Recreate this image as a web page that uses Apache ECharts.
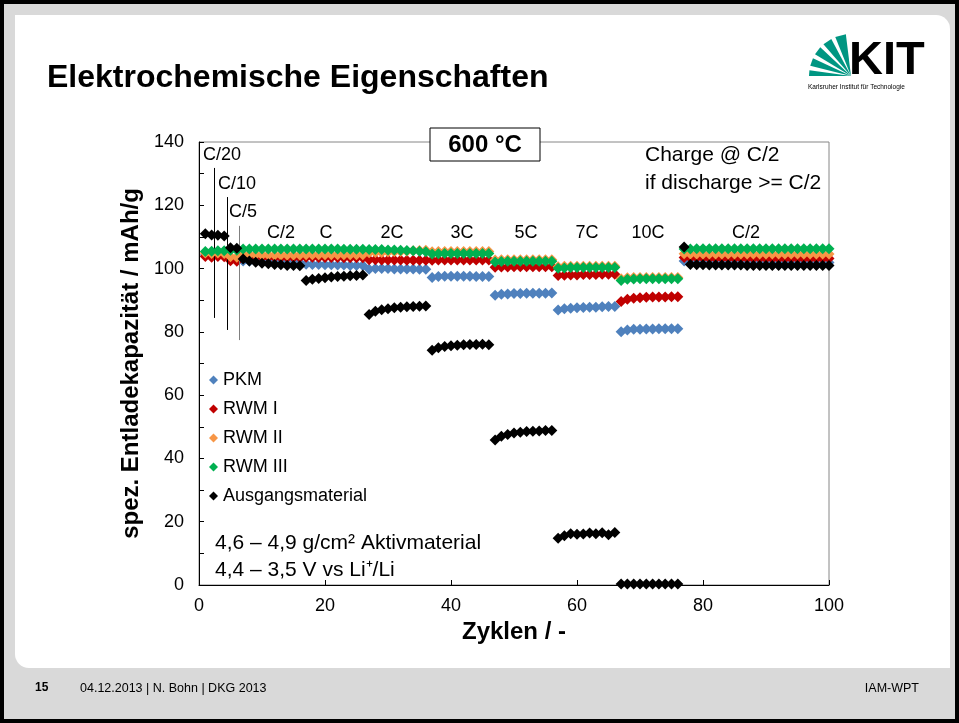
<!DOCTYPE html>
<html>
<head>
<meta charset="utf-8">
<script src="https://cdn.jsdelivr.net/npm/echarts@6/dist/echarts.min.js"></script>
<style>
  html, body { margin: 0; padding: 0; background: #000; }
  #chart { width: 959px; height: 723px; }
</style>
</head>
<body>
<div id="chart"></div>
<script>
// Zyklen 1..100
const cycles = Array.from({ length: 100 }, (_, i) => i + 1)

// spez. Entladekapazität (mAh/g) je Zyklus
const pkm = [
  104.3, 104.4, 104.4, 104.5, 103.0, 103.2,
  102.4, 102.3, 102.2, 102.2, 102.1, 102.1, 102.0, 102.0, 102.0, 101.9,
  101.4, 101.3, 101.3, 101.2, 101.2, 101.1, 101.1, 101.0, 101.0, 101.0,
  99.8, 100.0, 100.0, 100.0, 99.9, 99.9, 99.9, 99.9, 99.8, 99.8,
  97.2, 97.5, 97.6, 97.6, 97.6, 97.6, 97.6, 97.5, 97.5, 97.5,
  91.6, 91.9, 92.0, 92.1, 92.1, 92.2, 92.2, 92.2, 92.2, 92.3,
  86.9, 87.3, 87.5, 87.6, 87.7, 87.8, 87.8, 87.9, 88.0, 88.0,
  80.0, 80.6, 80.8, 80.8, 80.9, 80.9, 81.0, 81.0, 81.0, 81.0,
  102.4, 102.3, 102.3, 102.3, 102.2, 102.2, 102.2, 102.2, 102.2, 102.1, 102.1, 102.1,
  102.1, 102.1, 102.0, 102.0, 102.0, 102.0, 102.0, 102.0, 101.9, 101.9, 101.9, 101.9
]
const rwm1 = [
  103.8, 103.6, 103.8, 103.7, 102.5, 102.3,
  103.6, 103.7, 103.7, 103.6, 103.6, 103.6, 103.5, 103.5, 103.5, 103.5,
  103.6, 103.6, 103.5, 103.5, 103.5, 103.5, 103.4, 103.4, 103.4, 103.4,
  102.8, 102.8, 102.7, 102.7, 102.7, 102.7, 102.6, 102.6, 102.6, 102.6,
  102.6, 102.7, 102.7, 102.7, 102.7, 102.7, 102.7, 102.7, 102.7, 102.7,
  100.4, 100.5, 100.5, 100.6, 100.6, 100.6, 100.6, 100.6, 100.6, 100.6,
  97.8, 97.9, 98.0, 98.0, 98.1, 98.1, 98.1, 98.2, 98.2, 98.2,
  89.6, 90.3, 90.6, 90.8, 90.9, 91.0, 91.0, 91.0, 91.1, 91.1,
  103.5, 103.4, 103.4, 103.4, 103.3, 103.3, 103.3, 103.3, 103.3, 103.3, 103.3, 103.3,
  103.3, 103.2, 103.2, 103.2, 103.2, 103.2, 103.2, 103.2, 103.2, 103.2, 103.2, 103.2
]
const rwm2 = [
  104.9, 104.8, 104.9, 104.8, 103.7, 103.6,
  104.4, 104.4, 104.4, 104.3, 104.3, 104.3, 104.3, 104.3, 104.3, 104.3,
  104.4, 104.4, 104.4, 104.4, 104.4, 104.4, 104.4, 104.4, 104.4, 104.4,
  105.0, 105.1, 105.1, 105.2, 105.3, 105.4, 105.5, 105.6, 105.7, 105.8,
  105.3, 105.4, 105.4, 105.4, 105.4, 105.4, 105.4, 105.4, 105.4, 105.4,
  102.7, 102.8, 102.8, 102.8, 102.8, 102.8, 102.8, 102.8, 102.8, 102.8,
  100.6, 100.7, 100.7, 100.7, 100.7, 100.7, 100.7, 100.7, 100.7, 100.7,
  96.8, 97.1, 97.2, 97.2, 97.2, 97.2, 97.2, 97.2, 97.2, 97.2,
  104.7, 104.6, 104.6, 104.6, 104.6, 104.6, 104.6, 104.6, 104.6, 104.6, 104.6, 104.6,
  104.6, 104.6, 104.6, 104.6, 104.6, 104.6, 104.6, 104.6, 104.6, 104.6, 104.6, 104.6
]
const rwm3 = [
  105.4, 105.5, 105.6, 105.6, 105.8, 105.8,
  106.2, 106.2, 106.2, 106.2, 106.2, 106.2, 106.2, 106.2, 106.2, 106.2,
  106.2, 106.2, 106.2, 106.2, 106.2, 106.2, 106.1, 106.1, 106.1, 106.1,
  106.0, 106.0, 106.0, 105.9, 105.9, 105.8, 105.7, 105.6, 105.5, 105.3,
  104.6, 104.7, 104.8, 104.8, 104.8, 104.8, 104.8, 104.8, 104.8, 104.8,
  102.1, 102.2, 102.3, 102.3, 102.3, 102.3, 102.3, 102.3, 102.3, 102.3,
  100.1, 100.2, 100.3, 100.3, 100.3, 100.3, 100.3, 100.3, 100.3, 100.3,
  96.2, 96.6, 96.7, 96.8, 96.8, 96.8, 96.8, 96.8, 96.8, 96.8,
  106.2, 106.2, 106.3, 106.3, 106.3, 106.3, 106.3, 106.3, 106.3, 106.3, 106.3, 106.3,
  106.3, 106.3, 106.3, 106.3, 106.3, 106.3, 106.3, 106.3, 106.3, 106.3, 106.3, 106.3
]
const ausgang = [
  111.0, 110.6, 110.5, 110.3, 106.6, 106.4,
  103.0, 102.4, 102.0, 101.7, 101.5, 101.3, 101.2, 101.0, 101.0, 100.9,
  96.2, 96.6, 96.9, 97.1, 97.3, 97.5, 97.6, 97.7, 97.8, 98.0,
  85.5, 86.5, 87.0, 87.3, 87.6, 87.8, 87.9, 88.0, 88.1, 88.2,
  74.2, 75.0, 75.4, 75.6, 75.8, 75.9, 76.0, 76.0, 76.1, 75.9,
  45.8, 47.0, 47.6, 48.0, 48.3, 48.5, 48.6, 48.7, 48.8, 48.8,
  14.8, 15.6, 16.2, 16.0, 16.1, 16.4, 16.2, 16.5, 15.9, 16.6,
  0.3, 0.3, 0.3, 0.3, 0.3, 0.3, 0.3, 0.3, 0.3, 0.3,
  106.8, 101.3, 101.2, 101.2, 101.1, 101.1, 101.1, 101.1, 101.1, 101.1, 101.0, 101.0,
  101.0, 101.0, 101.0, 101.0, 101.0, 101.0, 101.0, 101.0, 101.0, 101.0, 101.0, 101.0
]

const seriesNames = ['PKM', 'RWM I', 'RWM II', 'RWM III', 'Ausgangsmaterial']
const seriesValues = [pkm, rwm1, rwm2, rwm3, ausgang]
const COLORS = ['#4F81BD', '#C00000', '#F79646', '#00B050', '#000000']

// Trennlinien zwischen C/20, C/10, C/5: [x, yTop, yBottom]
const rateLines = [[2.4, 131.8, 84.4], [4.45, 122.6, 80.6], [6.35, 113.5, 77.4]]
const rateLineColors = ['#000000', '#000000', '#808080']

// C-Raten Beschriftung
const rateLabels = ['C/2', 'C', '2C', '3C', '5C', '7C', '10C', 'C/2']
const rateLabelX = [281, 326, 392, 462, 526, 587, 648, 746]

const FONT = '"Liberation Sans", Arial, sans-serif'

const chart = echarts.init(document.getElementById('chart'))

const series = seriesNames.map((name, i) => ({
  name,
  type: 'scatter',
  symbol: 'diamond',
  symbolSize: 11,
  itemStyle: { color: COLORS[i], opacity: 1 },
  data: cycles.map((c, k) => [c, seriesValues[i][k]]),
  z: 3 + i,
  emphasis: { disabled: true },
}))

series.push({
  name: 'lines',
  type: 'line',
  data: [],
  z: 2,
  markLine: {
    silent: true,
    symbol: 'none',
    label: { show: false },
    data: rateLines.map((l, i) => [
      { coord: [l[0], l[1]], lineStyle: { color: rateLineColors[i], width: 1, type: 'solid' } },
      { coord: [l[0], l[2]] },
    ]),
  },
})

// Folienrahmen + KIT Logo
const graphics = [
  { type: 'rect', shape: { x: 0, y: 0, width: 959, height: 723 }, style: { fill: '#000' }, z: -10 },
  { type: 'rect', shape: { x: 4, y: 4, width: 951, height: 715 }, style: { fill: '#D9D9D9' }, z: -9 },
  { type: 'rect', shape: { x: 15, y: 15, width: 935, height: 653, r: [0, 14, 0, 14] }, style: { fill: '#fff' }, z: -8 },
  { type: 'text', left: 47, top: 62, style: { text: 'Elektrochemische Eigenschaften', font: 'bold 32px ' + FONT, fill: '#000' } },
  { type: 'text', left: 35, top: 682, style: { text: '15', font: 'bold 12px ' + FONT, fill: '#000' } },
  { type: 'text', left: 80, top: 682, style: { text: '04.12.2013 | N. Bohn | DKG 2013', font: '12.5px "Liberation Sans Narrow", ' + FONT, fill: '#000' } },
  { type: 'text', right: 40, top: 682, style: { text: 'IAM-WPT', font: '12.5px "Liberation Sans Narrow", ' + FONT, fill: '#000' } },
  { type: 'text', left: 849, top: 38, style: { text: 'KIT', font: 'bold 47px ' + FONT, fill: '#000' } },
  { type: 'text', left: 808, top: 84, style: { text: 'Karlsruher Institut für Technologie', font: '6.5px ' + FONT, fill: '#000' } },
]
// Logo Fächer
const apex = [851, 76]
const fanAngles = [[180, 172], [166, 155], [149, 137], [131, 118], [112, 97]]
fanAngles.forEach(([a0, a1]) => {
  const r = 42
  const p = (a) => [apex[0] + r * Math.cos(a * Math.PI / 180), apex[1] - r * Math.sin(a * Math.PI / 180)]
  graphics.push({ type: 'polygon', shape: { points: [apex, p(a0), p(a1)] }, style: { fill: '#009682' } })
})

// Beschriftungen im Diagramm
graphics.push(
  { type: 'rect', shape: { x: 430, y: 128, width: 110, height: 33 }, style: { fill: '#fff', stroke: '#000', lineWidth: 1 }, z: 20 },
  { type: 'text', x: 485, y: 145, style: { text: '600 °C', font: 'bold 24px ' + FONT, fill: '#000', align: 'center', verticalAlign: 'middle' }, z: 21 },
  { type: 'text', x: 203, y: 155, style: { text: 'C/20', font: '18px ' + FONT, fill: '#000', verticalAlign: 'middle' }, z: 20 },
  { type: 'text', x: 218, y: 184, style: { text: 'C/10', font: '18px ' + FONT, fill: '#000', verticalAlign: 'middle' }, z: 20 },
  { type: 'text', x: 229, y: 212, style: { text: 'C/5', font: '18px ' + FONT, fill: '#000', verticalAlign: 'middle' }, z: 20 },
  { type: 'text', x: 645, y: 155, style: { text: 'Charge @ C/2', font: '21px ' + FONT, fill: '#000', verticalAlign: 'middle' }, z: 20 },
  { type: 'text', x: 645, y: 183, style: { text: 'if discharge >= C/2', font: '21px ' + FONT, fill: '#000', verticalAlign: 'middle' }, z: 20 },
  { type: 'text', x: 215, y: 543, style: { text: '4,6 – 4,9 g/cm² Aktivmaterial', font: '21px ' + FONT, fill: '#000', verticalAlign: 'middle' }, z: 20 },
  { type: 'text', x: 215, y: 570, style: { text: '4,4 – 3,5 V vs Li⁺/Li', font: '21px ' + FONT, fill: '#000', verticalAlign: 'middle' }, z: 20 },
)
rateLabels.forEach((t, i) => {
  graphics.push({ type: 'text', x: rateLabelX[i], y: 233, style: { text: t, font: '18px ' + FONT, fill: '#000', align: 'center', verticalAlign: 'middle' }, z: 20 })
})

chart.setOption({
  animation: false,
  textStyle: { fontFamily: FONT },
  grid: {
    left: 199, right: 130, top: 142, bottom: 138,
    show: true, borderColor: '#868686', borderWidth: 1, backgroundColor: 'transparent',
  },
  legend: {
    orient: 'vertical',
    left: 209,
    top: 371,
    padding: 0,
    itemWidth: 9,
    itemHeight: 9,
    itemGap: 11,
    icon: 'diamond',
    data: seriesNames,
    textStyle: { fontSize: 18, color: '#000', fontFamily: FONT },
  },
  xAxis: {
    type: 'value',
    min: 0, max: 100, interval: 20,
    name: 'Zyklen / -',
    nameLocation: 'middle',
    nameGap: 29,
    nameTextStyle: { fontSize: 24, fontWeight: 'bold', color: '#000' },
    axisLine: { lineStyle: { color: '#000', width: 1 } },
    axisTick: { inside: true, length: 5, lineStyle: { color: '#000' } },
    axisLabel: { fontSize: 18, color: '#000', margin: 12 },
    splitLine: { show: false },
  },
  yAxis: {
    type: 'value',
    min: 0, max: 140, interval: 10,
    name: 'spez. Entladekapazität / mAh/g',
    nameLocation: 'middle',
    nameGap: 38,
    nameTextStyle: { fontSize: 24, fontWeight: 'bold', color: '#000' },
    axisLine: { show: true, lineStyle: { color: '#000', width: 1 } },
    axisTick: { show: true, inside: true, length: 5, lineStyle: { color: '#000' } },
    axisLabel: { fontSize: 18, color: '#000', margin: 15, formatter: v => (v % 20 === 0 ? String(v) : '') },
    splitLine: { show: false },
  },
  series,
  graphic: graphics,
})
</script>
</body>
</html>
